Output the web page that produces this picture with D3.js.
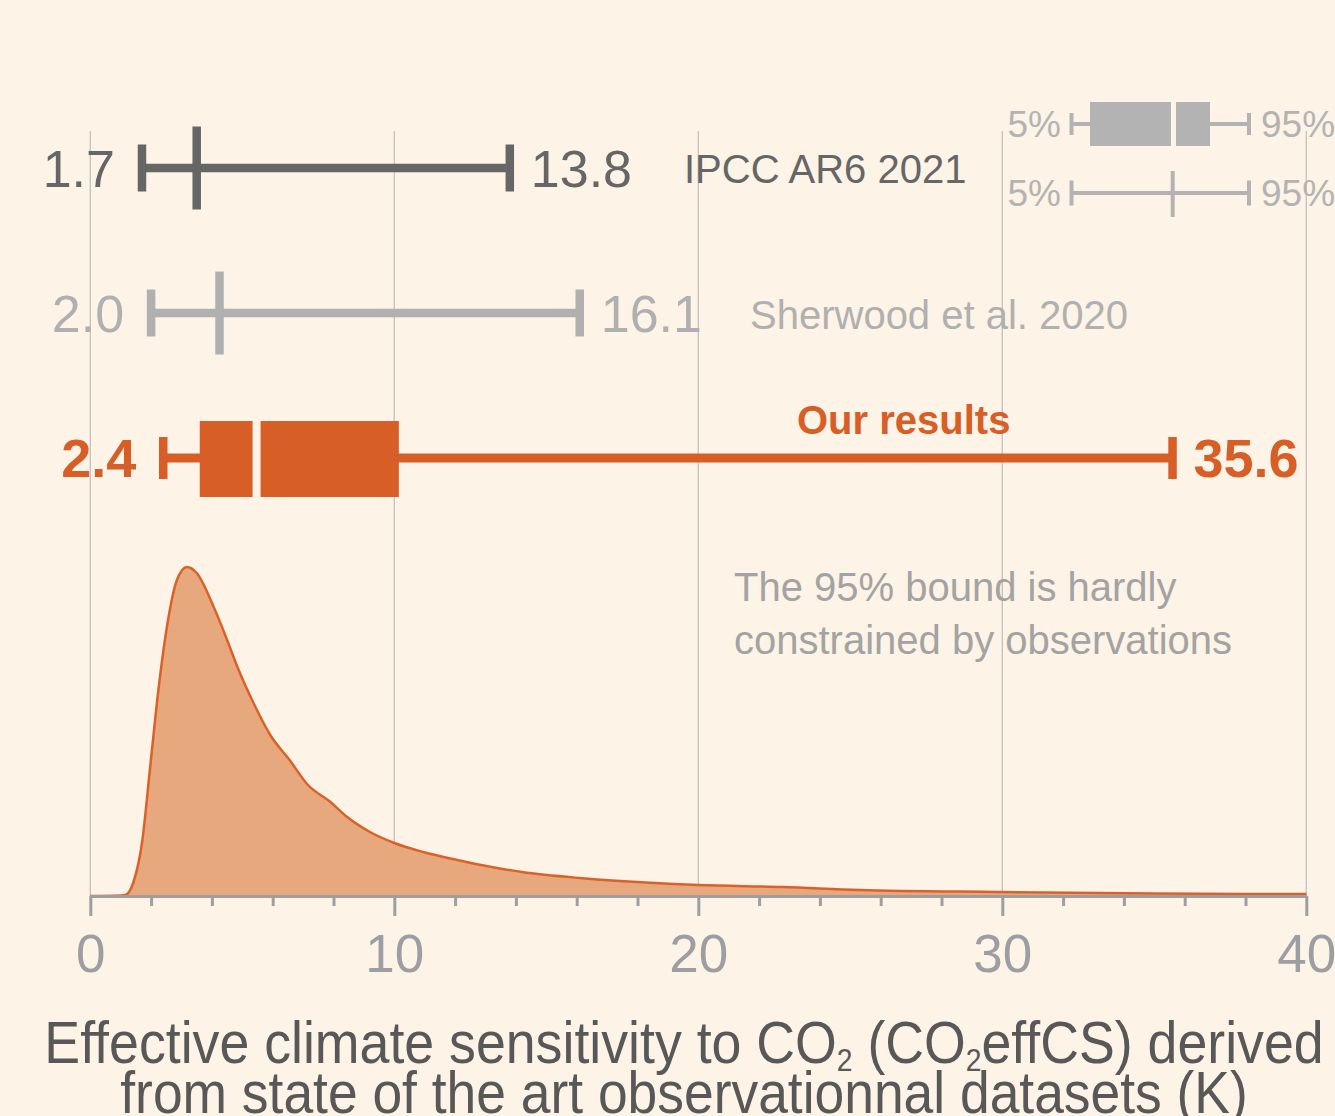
<!DOCTYPE html>
<html>
<head>
<meta charset="utf-8">
<script src="https://cdn.jsdelivr.net/npm/d3@7/dist/d3.min.js"></script>
<style>
  html, body { margin: 0; padding: 0; background: #FDF3E6; }
  svg { display: block; }
  text { font-family: "Liberation Sans", Arial, Helvetica, sans-serif; }
</style>
</head>
<body>
<svg id="chart" width="1335" height="1116"></svg>
<script>
// ---------------- data ----------------
// Probability density of CO2effCS (K)
const densityX = [0, 1.0, 1.15, 1.41, 1.7, 1.97, 2.24, 2.52, 2.85, 3.18, 3.5, 4.06, 4.5, 4.84, 5.37, 5.92, 6.58, 7.13, 7.9, 8.45, 9.2, 10.0, 10.95, 12.07, 13.2, 14.2, 16.1, 18.0, 20.0, 22.8, 25.3, 29.8, 35, 40];
const densityY = [0, 0.00025, 0.0005, 0.0065, 0.0265, 0.0645, 0.103, 0.1345, 0.158, 0.1645, 0.1615, 0.1445, 0.128, 0.1145, 0.0965, 0.0805, 0.0675, 0.056, 0.047, 0.0395, 0.032, 0.0265, 0.022, 0.018, 0.0145, 0.012, 0.009, 0.007, 0.0055, 0.0045, 0.003, 0.002, 0.00125, 0.001];

// Ranges (5%-95%) of the three estimates
const rowNames = ["IPCC AR6 2021", "Sherwood et al. 2020", "Our results"];
const p5 = [1.7, 2.0, 2.4];
const p95 = [13.8, 16.1, 35.6];
const medians = [3.5, 4.25, 5.47];
const q25 = [null, null, 3.6];
const q75 = [null, null, 10.15];
const lowLabels = ["1.7", "2.0", "2.4"];
const highLabels = ["13.8", "16.1", "35.6"];

// axis
const majorTicks = [0, 10, 20, 30, 40];
const minorTicks = d3.range(0, 41, 2);
const axisTitle1 = ["Effective climate sensitivity to CO", "2", " (CO", "2", "effCS) derived"];
const axisTitle2 = "from state of the art observationnal datasets (K)";
const noteLines = ["The 95% bound is hardly", "constrained by observations"];

// ---------------- styles ----------------
const BG = "#FDF3E6";
const ORANGE = "#D75F27";
const rowColor = ["#666666", "#B0B0B0", ORANGE];
const rowWeight = ["normal", "normal", "bold"];
const GRID = "#C2C0BC";
const AXIS = "#9C9EA1";

// ---------------- chart ----------------
const svg = d3.select("#chart");
svg.append("rect").attr("width", 1335).attr("height", 1116).attr("fill", BG);

const x = d3.scaleLinear().domain([0, 40]).range([90.3, 1306.3]);
const baseY = 896;
const y = d3.scaleLinear().domain([0, 0.2]).range([baseY, baseY - 400]);
const rowY = d3.scalePoint().domain(rowNames).range([168, 458]);

// gridlines
svg.append("g").selectAll("line").data(majorTicks).join("line")
  .attr("x1", d => x(d)).attr("x2", d => x(d))
  .attr("y1", 131).attr("y2", baseY)
  .attr("stroke", GRID).attr("stroke-width", 1.3);

// density
const pts = densityX.map((d, i) => [d, densityY[i]]);
svg.append("path").datum(pts)
  .attr("fill", "#E8A87E")
  .attr("d", d3.area().x(d => x(d[0])).y0(baseY).y1(d => y(d[1])).curve(d3.curveMonotoneX));
svg.append("path").datum(pts)
  .attr("fill", "none").attr("stroke", "#DA6229").attr("stroke-width", 2.5)
  .attr("stroke-linejoin", "round")
  .attr("d", d3.line().x(d => x(d[0])).y(d => y(d[1])).curve(d3.curveMonotoneX));

// axis
const axisG = svg.append("g").attr("transform", `translate(0,${baseY})`)
  .call(d3.axisBottom(x).tickValues(minorTicks).tickSize(10).tickSizeOuter(0)
    .tickFormat(d => d % 10 === 0 ? d3.format("d")(d) : ""));
axisG.select(".domain").attr("stroke", AXIS).attr("stroke-width", 3);
axisG.selectAll(".tick line").attr("stroke", AXIS).attr("stroke-width", 3)
  .attr("y2", d => d % 10 === 0 ? 20 : 10);
axisG.selectAll(".tick text")
  .attr("y", 76).attr("dy", null)
  .attr("fill", AXIS).attr("font-size", 53)
  .attr("font-family", "'Liberation Sans', Arial, sans-serif");

// range rows
rowNames.forEach((name, i) => {
  const cy = rowY(name);
  const g = svg.append("g");
  const col = rowColor[i];
  const isOurs = q25[i] !== null;
  const capH = isOurs ? 42 : 47;
  g.append("line").attr("x1", x(p5[i])).attr("x2", x(p95[i]))
    .attr("y1", cy).attr("y2", cy).attr("stroke", col).attr("stroke-width", isOurs ? 9 : 8.5);
  [p5[i], p95[i]].forEach(v => {
    g.append("line").attr("x1", x(v)).attr("x2", x(v))
      .attr("y1", cy - capH / 2).attr("y2", cy + capH / 2)
      .attr("stroke", col).attr("stroke-width", 8.5);
  });
  if (isOurs) {
    const by = cy + 1;
    g.append("rect").attr("x", x(q25[i])).attr("width", x(q75[i]) - x(q25[i]))
      .attr("y", by - 38).attr("height", 76).attr("fill", col);
    g.append("line").attr("x1", x(medians[i])).attr("x2", x(medians[i]))
      .attr("y1", by - 40).attr("y2", by + 40).attr("stroke", BG).attr("stroke-width", 8);
  } else {
    g.append("line").attr("x1", x(medians[i])).attr("x2", x(medians[i]))
      .attr("y1", cy - 41.5).attr("y2", cy + 41.5).attr("stroke", col).attr("stroke-width", 8.5);
  }
  const fs = isOurs ? 54 : 52;
  g.append("text").attr("x", x(p5[i]) - 27).attr("y", cy + 19)
    .attr("text-anchor", "end").attr("font-size", fs).attr("font-weight", rowWeight[i])
    .attr("fill", col).text(lowLabels[i]);
  g.append("text").attr("x", x(p95[i]) + 21).attr("y", cy + 19)
    .attr("text-anchor", "start").attr("font-size", fs).attr("font-weight", rowWeight[i])
    .attr("fill", col).text(highLabels[i]);
});

// row names
svg.append("text").attr("x", 684).attr("y", 183).attr("font-size", 40)
  .attr("fill", rowColor[0]).text(rowNames[0]);
svg.append("text").attr("x", 750).attr("y", 329).attr("font-size", 40)
  .attr("fill", rowColor[1]).text(rowNames[1]);
svg.append("text").attr("x", 797).attr("y", 434).attr("font-size", 40)
  .attr("font-weight", "bold").attr("fill", ORANGE).text(rowNames[2]);

// note
svg.append("g").selectAll("text").data(noteLines).join("text")
  .attr("x", 734).attr("y", (d, i) => 601 + i * 53)
  .attr("font-size", 40).attr("fill", "#A3A3A3").text(d => d);

// legend (key)
const LG = "#B3B3B3";
const leg = svg.append("g");
const lx0 = 1071.5, lx1 = 1249, lb0 = 1090, lb1 = 1210, lmed = 1173.5;
[124, 193].forEach((ly, k) => {
  leg.append("line").attr("x1", lx0).attr("x2", lx1).attr("y1", ly).attr("y2", ly)
    .attr("stroke", LG).attr("stroke-width", 4);
  const ch = k === 0 ? 22 : 25;
  [lx0, lx1].forEach(v => leg.append("line").attr("x1", v).attr("x2", v)
    .attr("y1", ly - ch / 2).attr("y2", ly + ch / 2).attr("stroke", LG).attr("stroke-width", 4));
  if (k === 0) {
    leg.append("rect").attr("x", lb0).attr("width", lb1 - lb0).attr("y", ly - 22).attr("height", 44).attr("fill", LG);
    leg.append("line").attr("x1", lmed).attr("x2", lmed).attr("y1", ly - 24).attr("y2", ly + 24)
      .attr("stroke", BG).attr("stroke-width", 5);
  } else {
    leg.append("line").attr("x1", lmed - 0.8).attr("x2", lmed - 0.8).attr("y1", ly - 22).attr("y2", ly + 24)
      .attr("stroke", LG).attr("stroke-width", 4);
  }
  leg.append("text").attr("x", 1061).attr("y", ly + 13).attr("text-anchor", "end")
    .attr("font-size", 37).attr("fill", LG).text("5%");
  leg.append("text").attr("x", 1261).attr("y", ly + 13).attr("text-anchor", "start")
    .attr("font-size", 37).attr("fill", LG).text("95%");
});

// axis title
const t1 = svg.append("g").attr("transform", "translate(684,1063) scale(0.91,1)")
  .append("text").attr("text-anchor", "middle").attr("font-size", 59).attr("fill", "#585858");
axisTitle1.forEach((s, i) => {
  const sub = i === 1 || i === 3;
  const ts = t1.append("tspan").text(s);
  if (sub) ts.attr("font-size", 31).attr("dy", 8);
  else if (i > 0) ts.attr("dy", -8);
});
svg.append("g").attr("transform", "translate(684,1113) scale(0.905,1)")
  .append("text").attr("text-anchor", "middle").attr("font-size", 59).attr("fill", "#585858")
  .text(axisTitle2);
</script>
</body>
</html>
